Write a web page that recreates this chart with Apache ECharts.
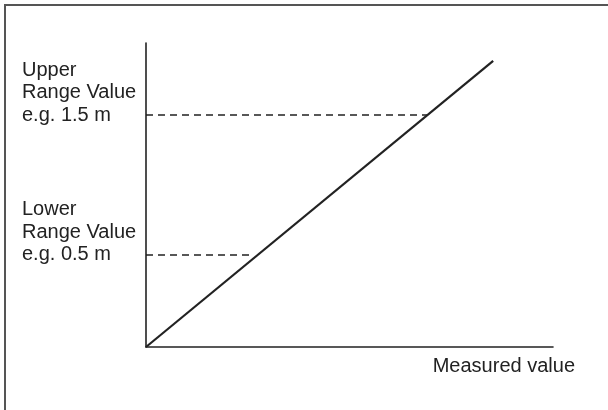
<!DOCTYPE html>
<html>
<head>
<meta charset="utf-8">
<script src="https://cdn.jsdelivr.net/npm/echarts@6/dist/echarts.min.js"></script>
<style>
html,body{margin:0;padding:0;background:#fff;}
#wrap{position:relative;width:608px;height:410px;overflow:hidden;}
#chart{position:absolute;left:0;top:0;width:608px;height:410px;}
#frame{position:absolute;left:4px;top:4px;width:700px;height:500px;border-left:2px solid #555;border-top:2px solid #555;pointer-events:none;}
</style>
</head>
<body>
<div id="wrap"><div id="chart"></div><div id="frame"></div></div>
<script>
// Data
const responseLine = [[0, 0], [85.3, 94.1]];
const upperRangeLine = [[0, 76.3], [69.3, 76.3]];
const lowerRangeLine = [[0, 30.3], [26.0, 30.3]];
const rangeValues = [30.3, 76.3];
const rangeLabels = ['Lower\nRange Value\ne.g. 0.5 m', 'Upper\nRange Value\ne.g. 1.5 m'];
const xAxisName = 'Measured value';

const chart = echarts.init(document.getElementById('chart'), null, {renderer: 'canvas'});
const ink = '#222';
const font = 'Liberation Sans, Arial, Helvetica, sans-serif';

chart.setOption({
  animation: false,
  backgroundColor: '#fff',
  grid: {left: 146, top: 43, right: 55, bottom: 63, containLabel: false},
  xAxis: {
    type: 'value', min: 0, max: 100,
    axisLine: {show: true, lineStyle: {color: ink, width: 1.6}},
    axisTick: {show: false},
    axisLabel: {show: false},
    splitLine: {show: false},
    name: xAxisName,
    nameLocation: 'end',
    nameGap: 22,
    nameTextStyle: {
      color: ink, fontSize: 20, fontFamily: font,
      align: 'right', verticalAlign: 'top', padding: [9, 0, 0, 0]
    }
  },
  yAxis: {
    type: 'value', min: 0, max: 100,
    axisLine: {show: true, lineStyle: {color: ink, width: 1.6}},
    axisTick: {show: false},
    splitLine: {show: false},
    axisLabel: {
      show: true,
      customValues: rangeValues,
      margin: 124,
      align: 'left',
      verticalAlign: 'middle',
      color: ink, fontSize: 20, fontFamily: font,
      lineHeight: 22.5,
      formatter: function (v) {
        let idx = 0, best = Infinity;
        rangeValues.forEach(function (r, i) { if (Math.abs(r - v) < best) { best = Math.abs(r - v); idx = i; } });
        return rangeLabels[idx] + '\n \n ';
      }
    }
  },
  series: [
    {
      type: 'line', data: responseLine, symbol: 'none',
      lineStyle: {color: ink, width: 2.2}, silent: true, z: 3
    },
    {
      type: 'line', data: upperRangeLine, symbol: 'none',
      lineStyle: {color: ink, width: 1.5, type: [7, 5]}, silent: true
    },
    {
      type: 'line', data: lowerRangeLine, symbol: 'none',
      lineStyle: {color: ink, width: 1.5, type: [7, 5]}, silent: true
    }
  ]
});
</script>
</body>
</html>
